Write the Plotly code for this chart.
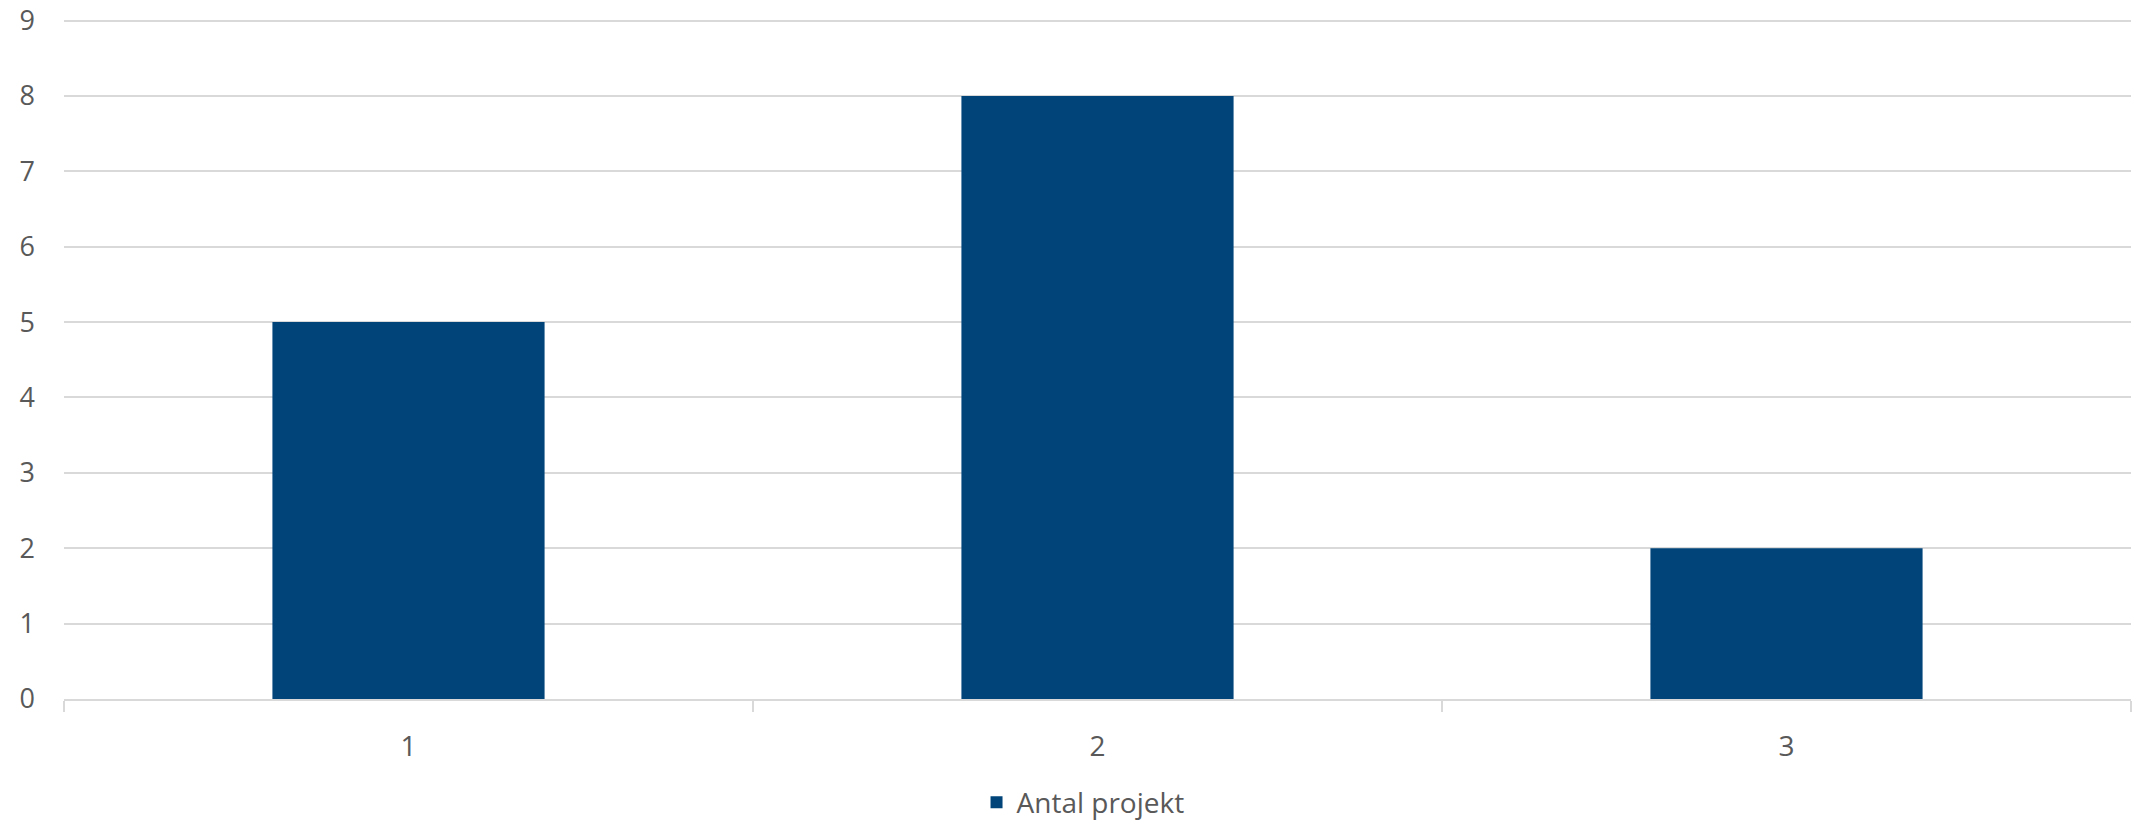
import plotly.graph_objects as go

categories = ["1", "2", "3"]
values = [5, 8, 2]
series_name = "Antal projekt"
y_ticks = [0, 1, 2, 3, 4, 5, 6, 7, 8, 9]

fig = go.Figure()
fig.add_trace(go.Bar(x=categories, y=values, name=series_name,
                     marker=dict(color="#01447A", line=dict(width=0))))

font_color = "#595959"
fig.update_layout(
    width=2133, height=820,
    margin=dict(l=64, r=2, t=13, b=121, autoexpand=False),
    paper_bgcolor="white", plot_bgcolor="white",
    font=dict(family="Open Sans", size=27, color=font_color),
    bargap=0.605,
    showlegend=True,
    legend=dict(orientation="h", x=0.493, xanchor="center", y=-0.151, yanchor="middle",
                font=dict(size=28, color=font_color), itemwidth=30),
)
fig.update_xaxes(type="category", range=[-0.5, len(categories) - 0.5],
                 showgrid=False, showline=True, linecolor="#d9d9d9", linewidth=2,
                 ticks="outside", tickson="boundaries", ticklen=11, tickcolor="#d9d9d9", tickwidth=2,
                 ticklabelstandoff=21, tickfont=dict(size=28, color=font_color), automargin=False)
fig.update_yaxes(range=[0, 9.1], tickvals=y_ticks, showgrid=True,
                 gridcolor="#d9d9d9", gridwidth=2,
                 zeroline=False, showline=False, ticks="", ticklabelstandoff=28,
                 tickfont=dict(size=27, color=font_color), automargin=False)

fig.write_html("out.html", config={"displayModeBar": False},
               post_script="document.body.style.margin='0';")
